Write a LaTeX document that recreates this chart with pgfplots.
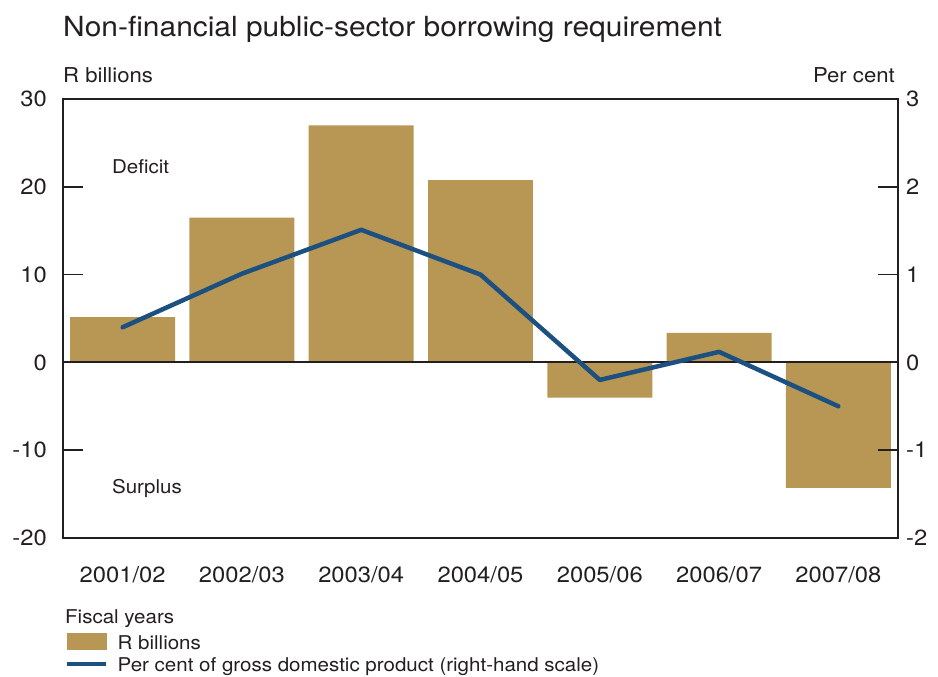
\documentclass[border=0pt]{standalone}
\usepackage{pgfplots}
\pgfplotsset{compat=1.18}
\usepackage{fontspec}
\setmainfont{TeX Gyre Heros}[FakeStretch=1.08]
\definecolor{barc}{RGB}{184,150,83}
\definecolor{linec}{RGB}{27,80,128}
\definecolor{axc}{RGB}{35,31,32}
\newcommand{\tickfont}{\fontsize{22bp}{25bp}\selectfont}
\newcommand{\lblfont}{\fontsize{20.5bp}{24bp}\selectfont}
\newcommand{\inlblfont}{\fontsize{19bp}{22bp}\selectfont}
\newcommand{\legfont}{\fontsize{19bp}{22bp}\selectfont}
\begin{document}
\begin{tikzpicture}[x=1bp,y=1bp]
\useasboundingbox (0,0) rectangle (938,677);
\node[anchor=base west, inner sep=0pt, text=axc, font=\fontsize{27.7bp}{33bp}\selectfont] at (63,640) {Non-financial public-sector borrowing requirement};
\node[anchor=base west, inner sep=0pt, text=axc, font=\lblfont] at (63,594) {R billions};
\node[anchor=base east, inner sep=0pt, text=axc, font=\lblfont] at (895,594) {Per cent};
\node[anchor=base west, inner sep=0pt, text=axc, font=\legfont] at (65,53) {Fiscal years};
\begin{axis}[
  at={(63bp,139bp)}, anchor=south west,
  scale only axis, width=835bp, height=439bp,
  xmin=-0.5, xmax=6.5, ymin=-20, ymax=30,
  axis line style={axc, line width=1.6bp},
  every tick/.style={axc, line width=1.6bp},
  tick align=inside,
  xtick={0,...,6},
  xticklabels={2001/02,2002/03,2003/04,2004/05,2005/06,2006/07,2007/08},
  xtick style={draw=none},
  minor xtick={0.5,1.5,...,5.5},
  minor tick length=12bp,
  major tick length=20bp,
  xtick pos=bottom, ytick pos=left,
  ytick={-20,-10,0,10,20,30},
  /pgf/number format/assume math mode=true,
  ticklabel style={font=\tickfont, text=axc, inner sep=0pt},
  yticklabel style={anchor=east, xshift=-16bp},
  xticklabel style={anchor=base, yshift=-45bp},
  clip=false,
]
\addplot[ybar, bar width=0.88, fill=barc, draw=none] coordinates {
  (0,5.15) (1,16.5) (2,27.0) (3,20.75) (4,-4.0) (5,3.35) (6,-14.3)
};
\addplot[axc, line width=2bp] coordinates {(-0.5,0) (6.5,0)};
\node[anchor=base west, inner sep=0pt, text=axc, font=\inlblfont] at (axis cs:-0.09,21.5) {Deficit};
\node[anchor=base west, inner sep=0pt, text=axc, font=\inlblfont] at (axis cs:-0.09,-14.9) {Surplus};
\end{axis}
\begin{axis}[
  at={(63bp,139bp)}, anchor=south west,
  scale only axis, width=835bp, height=439bp,
  xmin=-0.5, xmax=6.5, ymin=-2, ymax=3,
  axis x line=none,
  axis y line*=right,
  axis line style={axc, line width=1.6bp},
  every tick/.style={axc, line width=1.6bp},
  tick align=inside,
  major tick length=20bp,
  ytick={-2,-1,0,1,2,3},
  /pgf/number format/assume math mode=true,
  ticklabel style={font=\tickfont, text=axc, inner sep=0pt},
  yticklabel style={anchor=west, xshift=8bp},
  clip=false,
  legend style={at={(0,0)}, anchor=north west, xshift=2bp, yshift=-95bp,
    draw=none, fill=none, inner sep=0pt, font=\legfont, text=axc,
    nodes={inner sep=0pt, anchor=base west},
    row sep=7bp,
    /tikz/every odd column/.append style={column sep=9bp}},
  legend cell align=left,
]
\addlegendimage{legend image code/.code={\fill[barc] (0bp,0bp) rectangle (39bp,16bp);}}
\addlegendentry{R billions}
\addplot[linec, line width=4.5bp, line cap=round, line join=round,
  legend image code/.code={\draw[linec, line width=4.5bp, line cap=butt] (0bp,8bp) -- (39bp,8bp);}]
  coordinates {(0,0.40) (1,1.01) (2,1.51) (3,1.0) (4,-0.2) (5,0.12) (6,-0.5)};
\addlegendentry{Per cent of gross domestic product (right-hand scale)}
\end{axis}
\end{tikzpicture}
\end{document}
